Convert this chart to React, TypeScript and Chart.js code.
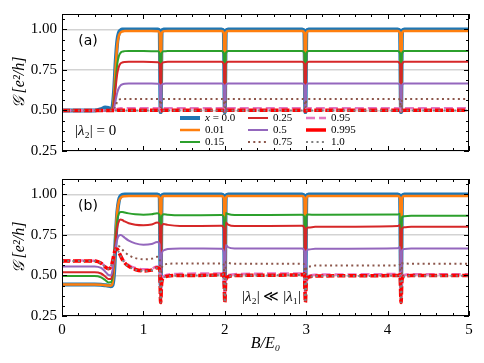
import React, { useEffect, useRef } from 'react';
import { Chart, registerables } from 'chart.js';
Chart.register(...registerables);

// ---------- data ----------
const seriesLabels = ['0.0', '0.01', '0.15', '0.25', '0.5', '0.75', '0.95', '0.995', '1.0'];
const xTickValues = [0, 1, 2, 3, 4, 5];
const yTickValues = [0.25, 0.5, 0.75, 1.0];

// panel (a): |lambda_2| = 0
const bA = [0, 0.40, 0.48, 0.53, 0.57, 0.60, 0.62, 0.64, 0.66, 0.68, 0.70, 0.72, 0.74, 0.77, 0.82, 1.00, 1.18, 1.20, 1.212, 1.224, 1.25, 1.30, 1.96, 1.988, 2.00, 2.012, 2.04, 2.95, 2.978, 2.99, 3.002, 3.03, 4.125, 4.153, 4.165, 4.177, 4.205, 5.00];
const gA_x000 = [0.5, 0.5, 0.508, 0.518, 0.516, 0.505, 0.52, 0.62, 0.80, 0.93, 0.98, 0.994, 0.999, 1.0, 1.0, 1.0, 0.999, 0.99, 0.49, 0.99, 0.999, 1.0, 1.0, 0.99, 0.49, 0.99, 1.0, 1.0, 0.99, 0.49, 0.99, 1.0, 1.0, 0.99, 0.49, 0.99, 1.0, 1.0];
const gA_x001 = [0.5, 0.5, 0.5, 0.501, 0.502, 0.502, 0.508, 0.6, 0.78, 0.91, 0.963, 0.981, 0.987, 0.99, 0.99, 0.99, 0.989, 0.975, 0.49, 0.975, 0.989, 0.99, 0.99, 0.975, 0.49, 0.975, 0.99, 0.99, 0.975, 0.49, 0.975, 0.99, 0.99, 0.975, 0.49, 0.975, 0.99, 0.99];
const gA_x015 = [0.5, 0.5, 0.5, 0.5, 0.5, 0.5, 0.505, 0.57, 0.69, 0.79, 0.838, 0.856, 0.863, 0.866, 0.867, 0.867, 0.865, 0.852, 0.49, 0.852, 0.865, 0.867, 0.867, 0.852, 0.49, 0.852, 0.867, 0.867, 0.852, 0.49, 0.852, 0.867, 0.867, 0.852, 0.49, 0.852, 0.867, 0.867];
const gA_x025 = [0.5, 0.5, 0.5, 0.5, 0.5, 0.5, 0.503, 0.55, 0.645, 0.73, 0.772, 0.79, 0.796, 0.799, 0.8, 0.8, 0.798, 0.786, 0.49, 0.786, 0.798, 0.8, 0.8, 0.786, 0.49, 0.786, 0.8, 0.8, 0.786, 0.49, 0.786, 0.8, 0.8, 0.786, 0.49, 0.786, 0.8, 0.8];
const gA_x050 = [0.5, 0.5, 0.5, 0.5, 0.5, 0.5, 0.5, 0.515, 0.565, 0.613, 0.64, 0.655, 0.661, 0.665, 0.667, 0.667, 0.665, 0.656, 0.49, 0.656, 0.665, 0.667, 0.667, 0.656, 0.49, 0.656, 0.667, 0.667, 0.656, 0.49, 0.656, 0.667, 0.667, 0.656, 0.49, 0.656, 0.667, 0.667];
const gA_x075 = [0.5, 0.5, 0.5, 0.5, 0.5, 0.5, 0.5, 0.505, 0.53, 0.556, 0.566, 0.57, 0.571, 0.571, 0.571, 0.571, 0.57, 0.566, 0.5, 0.566, 0.57, 0.571, 0.571, 0.566, 0.5, 0.566, 0.571, 0.571, 0.566, 0.5, 0.566, 0.571, 0.571, 0.566, 0.5, 0.566, 0.571, 0.571];
const gA_x095 = [0.5, 0.5, 0.5, 0.5, 0.5, 0.5, 0.5, 0.502, 0.506, 0.51, 0.512, 0.513, 0.513, 0.513, 0.513, 0.513, 0.513, 0.51, 0.5, 0.51, 0.513, 0.513, 0.513, 0.51, 0.5, 0.51, 0.513, 0.513, 0.51, 0.5, 0.51, 0.513, 0.513, 0.51, 0.5, 0.51, 0.513, 0.513];
const gA_x0995 = [0.5, 0.5, 0.5, 0.5, 0.5, 0.5, 0.5, 0.5, 0.5, 0.501, 0.501, 0.501, 0.501, 0.501, 0.501, 0.501, 0.501, 0.5, 0.497, 0.5, 0.501, 0.501, 0.501, 0.5, 0.497, 0.5, 0.501, 0.501, 0.5, 0.497, 0.5, 0.501, 0.501, 0.5, 0.497, 0.5, 0.501, 0.501];
const gA_x100 = [0.5, 0.5, 0.5, 0.5, 0.5, 0.5, 0.5, 0.5, 0.5, 0.5, 0.5, 0.5, 0.5, 0.5, 0.5, 0.5, 0.5, 0.5, 0.5, 0.5, 0.5, 0.5, 0.5, 0.5, 0.5, 0.5, 0.5, 0.5, 0.5, 0.5, 0.5, 0.5, 0.5, 0.5, 0.5, 0.5, 0.5, 0.5];

// panel (b): |lambda_2| << |lambda_1|
const bB = [0, 0.40, 0.48, 0.53, 0.57, 0.60, 0.62, 0.64, 0.66, 0.68, 0.70, 0.72, 0.74, 0.77, 0.82, 0.90, 1.00, 1.10, 1.17, 1.20, 1.212, 1.224, 1.25, 1.30, 1.45, 1.96, 1.988, 2.00, 2.012, 2.04, 2.12, 2.95, 2.978, 2.99, 3.002, 3.03, 3.11, 4.125, 4.153, 4.165, 4.177, 4.205, 4.29, 5.00];
const gB_x000 = [0.445, 0.445, 0.443, 0.44, 0.437, 0.433, 0.44, 0.52, 0.73, 0.89, 0.965, 0.99, 0.997, 1.0, 1.0, 1.0, 1.0, 1.0, 1.0, 0.99, 0.44, 0.99, 1.0, 1.0, 1.0, 1.0, 0.99, 0.43, 0.99, 1.0, 1.0, 1.0, 0.99, 0.43, 0.99, 1.0, 1.0, 1.0, 0.99, 0.43, 0.99, 1.0, 1.0, 1.0];
const gB_x001 = [0.444, 0.444, 0.443, 0.44, 0.438, 0.437, 0.45, 0.56, 0.76, 0.90, 0.958, 0.978, 0.986, 0.989, 0.99, 0.99, 0.99, 0.99, 0.99, 0.975, 0.45, 0.975, 0.99, 0.99, 0.99, 0.99, 0.975, 0.45, 0.975, 0.99, 0.99, 0.99, 0.975, 0.45, 0.975, 0.99, 0.99, 0.99, 0.975, 0.45, 0.975, 0.99, 0.99, 0.99];
const gB_x015 = [0.496, 0.496, 0.488, 0.472, 0.457, 0.458, 0.49, 0.61, 0.75, 0.845, 0.882, 0.892, 0.892, 0.888, 0.883, 0.878, 0.875, 0.877, 0.884, 0.872, 0.42, 0.86, 0.878, 0.875, 0.871, 0.873, 0.86, 0.42, 0.886, 0.879, 0.873, 0.874, 0.862, 0.42, 0.87, 0.876, 0.874, 0.876, 0.88, 0.42, 0.86, 0.866, 0.868, 0.868];
const gB_x025 = [0.52, 0.52, 0.512, 0.494, 0.478, 0.478, 0.51, 0.60, 0.72, 0.80, 0.835, 0.845, 0.842, 0.833, 0.822, 0.813, 0.81, 0.814, 0.826, 0.815, 0.40, 0.80, 0.818, 0.812, 0.805, 0.806, 0.79, 0.40, 0.826, 0.814, 0.805, 0.806, 0.79, 0.40, 0.79, 0.796, 0.80, 0.805, 0.812, 0.40, 0.79, 0.797, 0.80, 0.80];
const gB_x050 = [0.556, 0.556, 0.547, 0.525, 0.503, 0.50, 0.53, 0.60, 0.675, 0.725, 0.745, 0.75, 0.745, 0.733, 0.715, 0.698, 0.69, 0.694, 0.706, 0.69, 0.38, 0.63, 0.655, 0.663, 0.667, 0.665, 0.645, 0.38, 0.688, 0.674, 0.666, 0.667, 0.65, 0.38, 0.65, 0.66, 0.665, 0.668, 0.675, 0.38, 0.655, 0.664, 0.666, 0.666];
const gB_x075 = [0.588, 0.588, 0.578, 0.556, 0.545, 0.55, 0.58, 0.625, 0.66, 0.68, 0.68, 0.672, 0.66, 0.645, 0.625, 0.607, 0.60, 0.603, 0.615, 0.605, 0.36, 0.54, 0.565, 0.572, 0.574, 0.574, 0.565, 0.36, 0.585, 0.578, 0.573, 0.573, 0.567, 0.36, 0.55, 0.556, 0.561, 0.562, 0.566, 0.36, 0.575, 0.574, 0.572, 0.572];
const gB_x095 = [0.592, 0.591, 0.578, 0.556, 0.545, 0.553, 0.586, 0.635, 0.665, 0.665, 0.648, 0.626, 0.607, 0.586, 0.565, 0.546, 0.538, 0.542, 0.556, 0.545, 0.34, 0.46, 0.495, 0.505, 0.51, 0.512, 0.5, 0.34, 0.485, 0.502, 0.508, 0.512, 0.5, 0.34, 0.48, 0.498, 0.505, 0.51, 0.515, 0.34, 0.485, 0.503, 0.508, 0.508];
const gB_x0995 = [0.59, 0.589, 0.576, 0.553, 0.542, 0.552, 0.585, 0.635, 0.664, 0.662, 0.643, 0.62, 0.60, 0.578, 0.556, 0.537, 0.528, 0.533, 0.548, 0.54, 0.333, 0.45, 0.486, 0.496, 0.50, 0.503, 0.51, 0.333, 0.47, 0.492, 0.50, 0.504, 0.51, 0.333, 0.47, 0.49, 0.497, 0.50, 0.505, 0.333, 0.475, 0.495, 0.50, 0.50];
const gB_x100 = [0.589, 0.589, 0.576, 0.553, 0.541, 0.551, 0.585, 0.635, 0.664, 0.661, 0.642, 0.619, 0.599, 0.577, 0.555, 0.536, 0.527, 0.532, 0.547, 0.539, 0.333, 0.45, 0.485, 0.495, 0.499, 0.502, 0.509, 0.333, 0.47, 0.491, 0.499, 0.503, 0.509, 0.333, 0.47, 0.489, 0.496, 0.499, 0.504, 0.333, 0.475, 0.494, 0.499, 0.499];

const seriesA = [gA_x000, gA_x001, gA_x015, gA_x025, gA_x050, gA_x075, gA_x095, gA_x0995, gA_x100];
const seriesB = [gB_x000, gB_x001, gB_x015, gB_x025, gB_x050, gB_x075, gB_x095, gB_x0995, gB_x100];

// ---------- styles ----------
type Sty = { color: string; width: number; dash: number[] };
const styles: Sty[] = [
  { color: '#1f77b4', width: 4, dash: [] },
  { color: '#ff7f0e', width: 2.5, dash: [] },
  { color: '#2ca02c', width: 2, dash: [] },
  { color: '#d62728', width: 2, dash: [] },
  { color: '#9467bd', width: 2, dash: [] },
  { color: '#8c564b', width: 2, dash: [2, 3.3] },
  { color: '#e377c2', width: 2.5, dash: [9, 4] },
  { color: '#ff0000', width: 3.5, dash: [8, 3] },
  { color: '#7f7f7f', width: 2, dash: [2, 3.3] },
];

const SERIF = '"Liberation Serif", "DejaVu Serif", serif';
const SANS = '"DejaVu Sans", sans-serif';
const Y_MIN = 0.25;
const Y_MAX = 1.095;

function drawRich(ctx: CanvasRenderingContext2D, parts: [string, boolean][], x: number, y: number, size: number) {
  let cx = x;
  ctx.textBaseline = 'middle';
  ctx.textAlign = 'left';
  for (const [t, it] of parts) {
    ctx.font = `${it ? 'italic ' : ''}${size}px ${SERIF}`;
    ctx.fillText(t, cx, y);
    cx += ctx.measureText(t).width;
  }
}

const framePlugin = {
  id: 'frameTicks',
  afterDraw(chart: any) {
    const { ctx, chartArea: a, scales } = chart;
    const x = scales.x;
    const y = scales.y;
    ctx.save();
    ctx.strokeStyle = '#000';
    ctx.lineWidth = 1;
    ctx.strokeRect(Math.round(a.left) + 0.5, Math.round(a.top) + 0.5, Math.round(a.right - a.left) - 1, Math.round(a.bottom - a.top) - 1);
    const line = (x1: number, y1: number, x2: number, y2: number) => {
      ctx.beginPath();
      ctx.moveTo(x1, y1);
      ctx.lineTo(x2, y2);
      ctx.stroke();
    };
    for (let i = 0; i <= 25; i++) {
      const v = i * 0.2;
      const px = Math.round(x.getPixelForValue(v)) + 0.5;
      const len = i % 5 === 0 ? 5 : 3;
      line(px, a.bottom, px, a.bottom - len);
      line(px, a.top, px, a.top + len);
    }
    for (let i = 0; i <= 14; i++) {
      const v = 0.25 + i * 0.0625;
      if (v > Y_MAX) break;
      const py = Math.round(y.getPixelForValue(v)) + 0.5;
      const len = i % 4 === 0 ? 5 : 3;
      line(a.left, py, a.left + len, py);
      line(a.right, py, a.right - len, py);
    }
    ctx.restore();
  },
};

const annotA = {
  id: 'annotA',
  afterDraw(chart: any) {
    const { ctx, chartArea: a } = chart;
    ctx.save();
    ctx.fillStyle = '#000';
    ctx.font = `14px ${SANS}`;
    ctx.textAlign = 'center';
    ctx.textBaseline = 'middle';
    ctx.fillText('(a)', a.left + 26, a.top + 27);
    drawRich(ctx, [['|', false], ['λ', true], ['₂', false], ['| = 0', false]], a.left + 13, a.top + 117, 15);
    const cols = [180, 248, 306];
    const rows = [118, 130, 142];
    seriesLabels.forEach((lab, i) => {
      const c = Math.floor(i / 3);
      const r = i % 3;
      const x0 = cols[c];
      const yy = rows[r];
      const s = styles[i];
      ctx.strokeStyle = s.color;
      ctx.lineWidth = s.width;
      ctx.setLineDash(i === 7 ? [] : s.dash);
      ctx.beginPath();
      ctx.moveTo(x0, yy);
      ctx.lineTo(x0 + 20, yy);
      ctx.stroke();
      ctx.setLineDash([]);
      ctx.fillStyle = '#000';
      if (i === 0) drawRich(ctx, [['x', true], [' = ' + lab, false]], x0 + 25, yy, 11);
      else drawRich(ctx, [[lab, false]], x0 + 25, yy, 11);
    });
    ctx.restore();
  },
};

const annotB = {
  id: 'annotB',
  afterDraw(chart: any) {
    const { ctx, chartArea: a } = chart;
    ctx.save();
    ctx.fillStyle = '#000';
    ctx.font = `14px ${SANS}`;
    ctx.textAlign = 'center';
    ctx.textBaseline = 'middle';
    ctx.fillText('(b)', a.left + 26, a.top + 27);
    drawRich(ctx, [['|', false], ['λ', true], ['₂', false], ['| ≪ |', false], ['λ', true], ['₁', false], ['|', false]], a.left + 180, a.top + 118, 15);
    ctx.restore();
  },
};

function makeConfig(bVals: number[], series: number[][], bottomPanel: boolean, annot: any): any {
  return {
    type: 'line',
    data: {
      datasets: series.map((vals, i) => ({
        label: seriesLabels[i],
        data: bVals.map((bv, j) => ({ x: bv, y: vals[j] })),
        borderColor: styles[i].color,
        borderWidth: styles[i].width,
        borderDash: styles[i].dash,
        borderCapStyle: 'butt',
        borderJoinStyle: 'round',
        pointRadius: 0,
        fill: false,
        cubicInterpolationMode: 'monotone',
        order: 8 - i,
      })),
    },
    options: {
      responsive: false,
      animation: false,
      events: [],
      layout: { padding: { left: 0, right: 15, top: bottomPanel ? 10 : 13, bottom: bottomPanel ? 0 : 12 } },
      plugins: { legend: { display: false }, tooltip: { enabled: false } },
      scales: {
        x: {
          type: 'linear',
          min: 0,
          max: 5,
          display: bottomPanel,
          afterBuildTicks: (s: any) => { s.ticks = xTickValues.map((v) => ({ value: v })); },
          afterFit: (s: any) => { s.height = bottomPanel ? 47 : 0; },
          grid: { display: false, drawTicks: false },
          border: { display: false },
          ticks: { padding: 5, color: '#000', font: { family: SERIF, size: 15 }, maxRotation: 0, callback: (v: any) => String(v) },
          title: { display: bottomPanel, text: 'B/E₀', color: '#000', font: { family: SERIF, size: 16, style: 'italic' }, padding: { top: 0, bottom: 10 } },
        },
        y: {
          type: 'linear',
          min: Y_MIN,
          max: Y_MAX,
          afterBuildTicks: (s: any) => { s.ticks = yTickValues.map((v) => ({ value: v })); },
          afterFit: (s: any) => { s.width = 62; },
          grid: { color: '#d3d3d3', lineWidth: 1.5, drawTicks: false },
          border: { display: false },
          ticks: { padding: 5, color: '#000', font: { family: SERIF, size: 15 }, callback: (v: any) => Number(v).toFixed(2) },
          title: { display: true, text: '𝒢 [e²/h]', color: '#000', font: { family: SERIF, size: 16, style: 'italic' }, padding: { top: 10, bottom: 0 } },
        },
      },
    },
    plugins: [framePlugin, annot],
  };
}

export default function App() {
  const refA = useRef<HTMLCanvasElement>(null);
  const refB = useRef<HTMLCanvasElement>(null);
  useEffect(() => {
    const cA = new Chart(refA.current as HTMLCanvasElement, makeConfig(bA, seriesA, false, annotA));
    const cB = new Chart(refB.current as HTMLCanvasElement, makeConfig(bB, seriesB, true, annotB));
    return () => { cA.destroy(); cB.destroy(); };
  }, []);
  return (
    <div style={{ position: 'fixed', left: 0, top: 0, width: 484, height: 363, background: '#fff' }}>
      <canvas ref={refA} width={484} height={165} style={{ position: 'absolute', left: 0, top: 0, width: 484, height: 165 }} />
      <canvas ref={refB} width={484} height={198} style={{ position: 'absolute', left: 0, top: 165, width: 484, height: 198 }} />
    </div>
  );
}
